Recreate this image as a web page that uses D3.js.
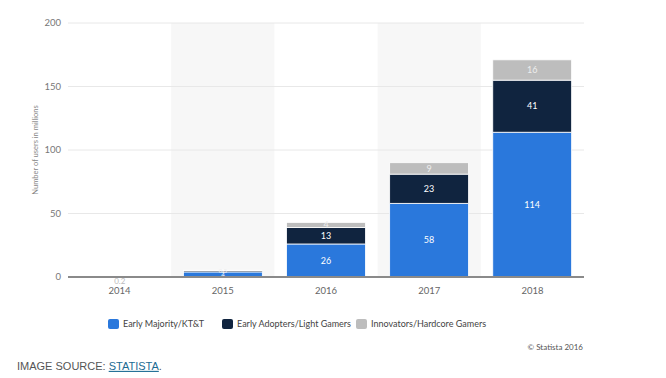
<!DOCTYPE html>
<html>
<head>
<meta charset="utf-8">
<script src="https://cdn.jsdelivr.net/npm/d3@7"></script>
<style>
  body { margin: 0; background: #fff; }
  svg { display: block; }
</style>
</head>
<body>
<svg id="chart"></svg>
<script>
// Data
const years = ["2014", "2015", "2016", "2017", "2018"];
const earlyMajority = [0.1, 4, 26, 58, 114];
const earlyAdopters = [0.05, 1, 13, 23, 41];
const innovators = [0.05, 0.3, 4, 9, 16];
const seriesNames = ["Early Majority/KT&T", "Early Adopters/Light Gamers", "Innovators/Hardcore Gamers"];
const yTicks = [0, 50, 100, 150, 200];

const W = 666, H = 378;
const margin = {top: 23, right: 82, bottom: 101, left: 68};
const width = W - margin.left - margin.right;
const height = H - margin.top - margin.bottom;

const svg = d3.select("#chart").attr("width", W).attr("height", H);
const g = svg.append("g").attr("transform", `translate(${margin.left}, ${margin.top})`);

const data = years.map((y, i) => ({
  year: y,
  a: earlyMajority[i],
  b: earlyAdopters[i],
  c: innovators[i]
}));
const keys = ["a", "b", "c"];
const colors = {a: "#2a78dc", b: "#10243f", c: "#bdbdbd"};

const x = d3.scaleBand().domain(years).range([0, width]).paddingInner(0.235).paddingOuter(0.12);
const xOuter = d3.scaleBand().domain(years).range([0, width]);
const y = d3.scaleLinear().domain([0, 200]).range([height, 0]);

// alternating shaded bands
g.selectAll(".band")
  .data(years.filter((d, i) => i % 2 === 1))
  .enter().append("rect")
  .attr("x", d => xOuter(d))
  .attr("y", 0)
  .attr("width", xOuter.bandwidth())
  .attr("height", height)
  .attr("fill", "#f7f7f7");

// grid
g.selectAll(".grid")
  .data(yTicks.slice(1))
  .enter().append("line")
  .attr("x1", 0).attr("x2", width)
  .attr("y1", d => y(d)).attr("y2", d => y(d))
  .attr("stroke", "#e8e8e8").attr("stroke-width", 1);

// y tick labels
g.selectAll(".ylab")
  .data(yTicks)
  .enter().append("text")
  .attr("x", -7).attr("y", d => y(d))
  .attr("dy", "0.35em")
  .attr("text-anchor", "end")
  .attr("font-family", "Lato, 'Open Sans', sans-serif")
  .attr("font-size", "9.5px")
  .attr("fill", "#777")
  .text(d => d);

// y axis title
g.append("text")
  .attr("transform", `translate(-30, ${height / 2}) rotate(-90)`)
  .attr("text-anchor", "middle")
  .attr("font-family", "Lato, 'Open Sans', sans-serif")
  .attr("font-size", "7.5px")
  .attr("fill", "#888")
  .text("Number of users in millions");

// stacked bars
const layers = d3.stack().keys(keys)(data);
const layer = g.selectAll(".layer")
  .data(layers)
  .enter().append("g")
  .attr("fill", d => colors[d.key]);

layer.selectAll("rect")
  .data(d => d)
  .enter().append("rect")
  .attr("x", d => x(d.data.year))
  .attr("y", d => y(d[1]))
  .attr("width", x.bandwidth())
  .attr("height", d => y(d[0]) - y(d[1]))
  .attr("stroke", "#fff")
  .attr("stroke-width", 0.8);

// value labels (2015 ones are tiny, as in the original)
layer.selectAll("text")
  .data(d => d.map(p => ({p: p, key: d.key})))
  .enter().append("text")
  .filter(d => d.p.data.year !== "2014")
  .attr("x", d => x(d.p.data.year) + x.bandwidth() / 2)
  .attr("y", d => (y(d.p[0]) + y(d.p[1])) / 2)
  .attr("dy", "0.35em")
  .attr("text-anchor", "middle")
  .attr("font-family", "Lato, 'Open Sans', sans-serif")
  .attr("font-size", d => d.p.data.year === "2015" ? "6px" : "9px")
  .attr("fill", d => d.key === "c" ? "#eee" : "#fff")
  .text(d => d.p.data[d.key]);

// 2014 total label
g.append("text")
  .attr("x", x("2014") + x.bandwidth() / 2)
  .attr("y", height + 4)
  .attr("dy", "0.35em")
  .attr("text-anchor", "middle")
  .attr("font-family", "Lato, 'Open Sans', sans-serif")
  .attr("font-size", "8px")
  .attr("fill", "#bbb")
  .text("0.2");

// x axis line
g.append("line")
  .attr("x1", 0).attr("x2", width)
  .attr("y1", height).attr("y2", height)
  .attr("stroke", "#8a8a8a").attr("stroke-width", 2);

// x tick labels
g.selectAll(".xlab")
  .data(years)
  .enter().append("text")
  .attr("x", d => xOuter(d) + xOuter.bandwidth() / 2)
  .attr("y", height + 14)
  .attr("dy", "0.35em")
  .attr("text-anchor", "middle")
  .attr("font-family", "Lato, 'Open Sans', sans-serif")
  .attr("font-size", "9.5px")
  .attr("fill", "#666")
  .text(d => d);

// legend
const legendX = [108, 222, 356];
const legend = svg.append("g").attr("transform", "translate(0, 324)");
const items = legend.selectAll("g")
  .data(seriesNames)
  .enter().append("g")
  .attr("transform", (d, i) => `translate(${legendX[i]}, 0)`);
items.append("rect")
  .attr("x", 0).attr("y", -5)
  .attr("width", 11).attr("height", 10)
  .attr("rx", 2)
  .attr("fill", (d, i) => colors[keys[i]]);
items.append("text")
  .attr("x", 15).attr("y", 0)
  .attr("dy", "0.35em")
  .attr("font-family", "Lato, 'Open Sans', sans-serif")
  .attr("font-size", "9px")
  .attr("fill", "#444")
  .text(d => d);

// credit
svg.append("text")
  .attr("x", 583).attr("y", 347)
  .attr("dy", "0.35em")
  .attr("text-anchor", "end")
  .attr("font-family", "Lato, 'Open Sans', sans-serif")
  .attr("font-size", "8px")
  .attr("fill", "#555")
  .text("© Statista 2016");

// image source line
const src = svg.append("text")
  .attr("x", 17).attr("y", 366)
  .attr("dy", "0.35em")
  .attr("font-family", "'Liberation Sans', Arial, sans-serif")
  .attr("font-size", "11px")
  .attr("fill", "#555");
src.append("tspan").text("IMAGE SOURCE: ");
src.append("tspan").attr("fill", "#1b6b93").attr("text-decoration", "underline").text("STATISTA");
src.append("tspan").text(".");
</script>
</body>
</html>
